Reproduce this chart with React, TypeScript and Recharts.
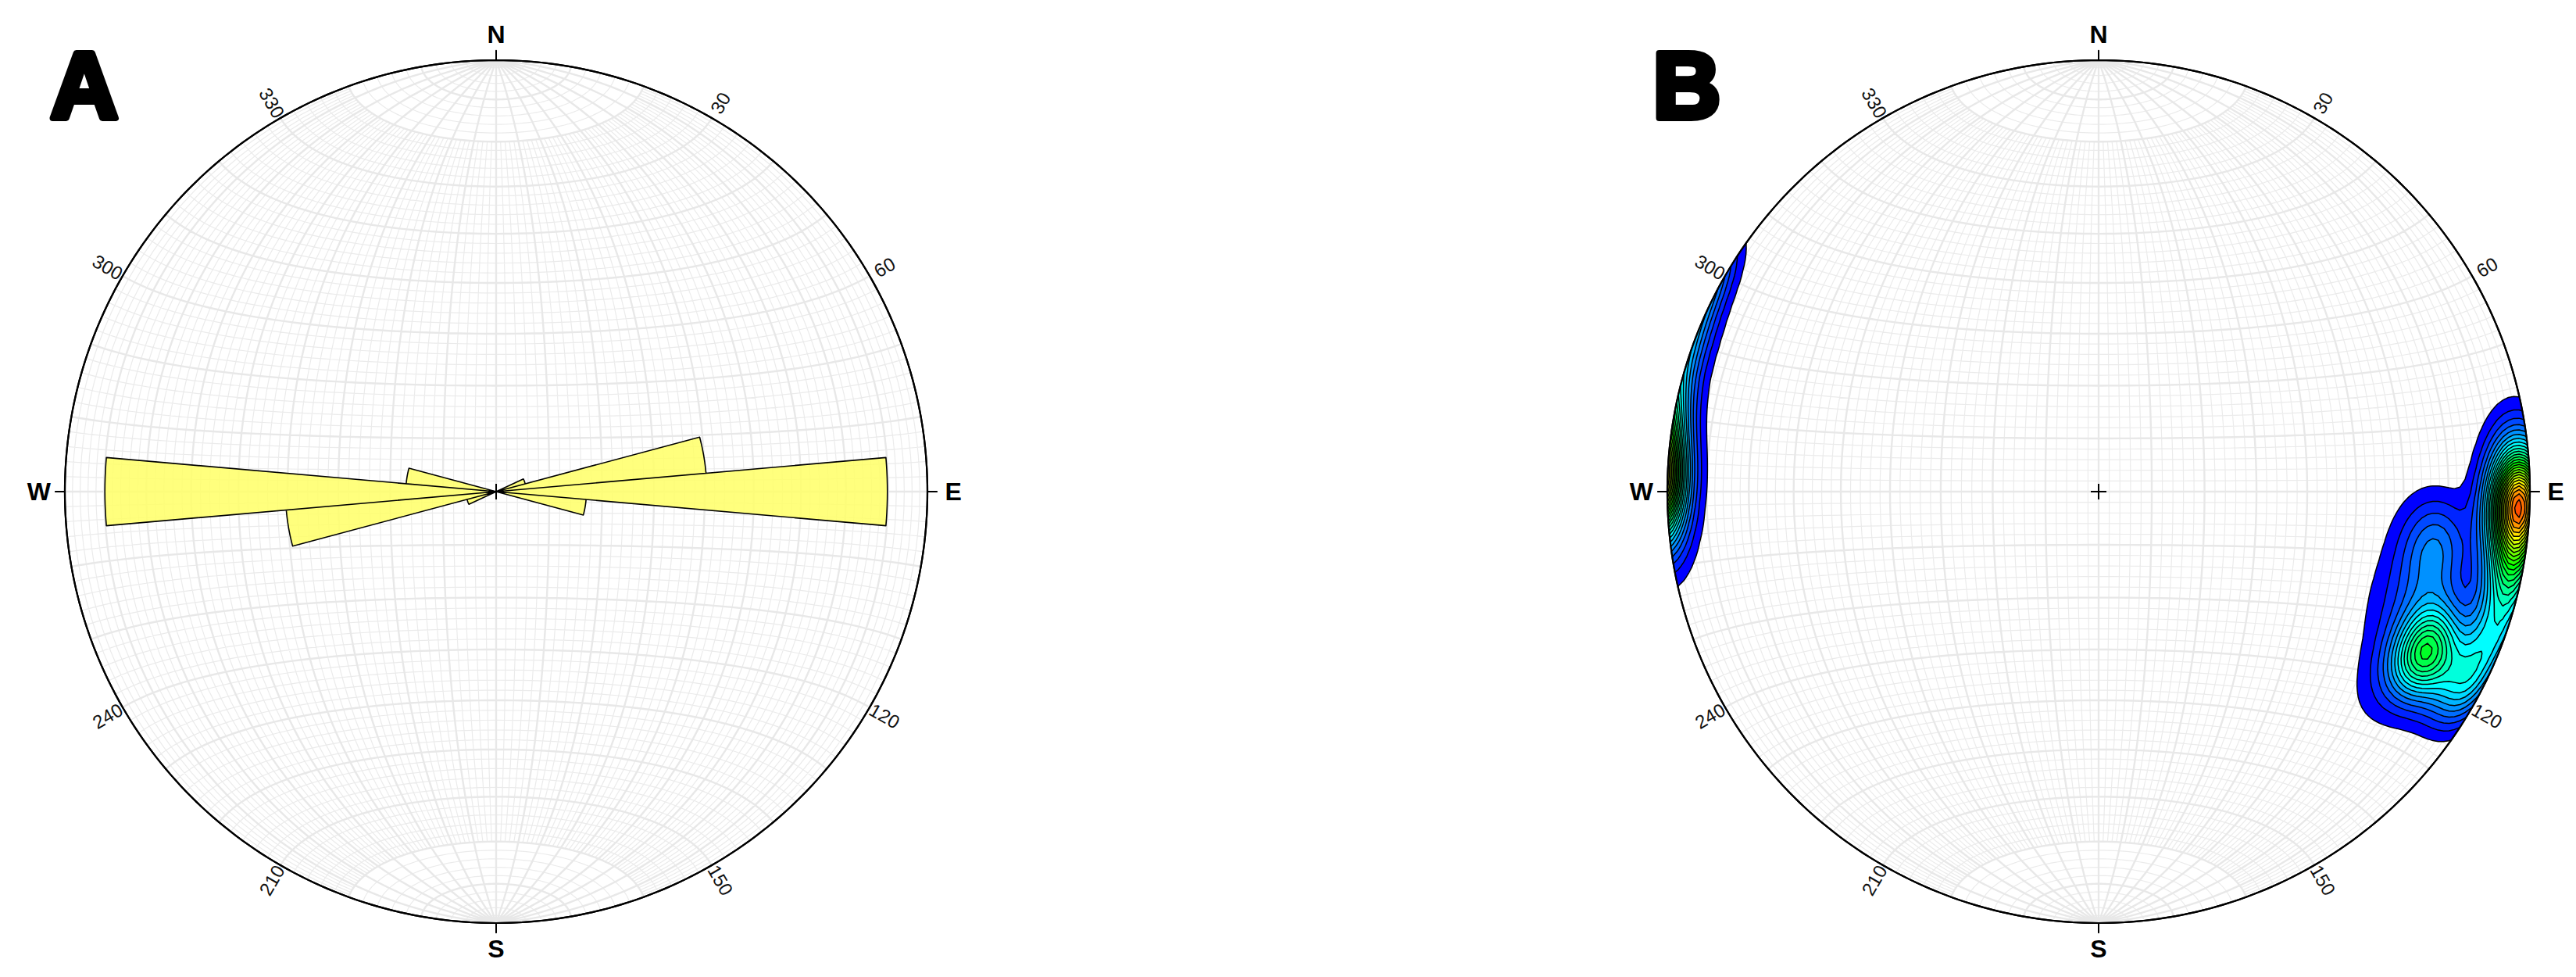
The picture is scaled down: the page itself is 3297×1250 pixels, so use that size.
import React from 'react';
import { ScatterChart, Scatter, XAxis, YAxis } from 'recharts';

// ---------------- data ----------------
// Panel A: rose diagram (10-degree bins, bidirectional strike data)
const roseBinCenters = [70, 80, 90, 100, 250, 260, 270, 280];
const roseBinCounts = [1, 7, 13, 3, 1, 7, 13, 3];
const roseBinWidth = 10;
const roseFullScaleCount = 14.33;

// Net annotations
const cardinalLabels = ['N', 'E', 'S', 'W'];
const cardinalAzimuths = [0, 90, 180, 270];
const degreeTickLabels = ['30', '60', '120', '150', '210', '240', '300', '330'];
const degreeTickAzimuths = [30, 60, 120, 150, 210, 240, 300, 330];
const panelLabels = ['A', 'B'];

// Panel B: pole-density concentrations (trend, plunge in degrees)
const poleTrends = [92, 101, 86, 110, 118, 118, 116, 107, 99, 110, 124, 97];
const polePlunges = [3, 3, 2, 3, 4, 10, 17, 21, 22, 27, 21, 26];
const poleWeights = [1.0, 0.35, 0.12, 0.25, 0.22, 0.12, 0.5, 0.08, 0.15, 0.05, 0.04, 0.03];
const poleKappas = [130, 150, 120, 150, 180, 150, 140, 120, 130, 80, 80, 100];
const contourLevelCount = 27;

// ---------------- layout ----------------
const WIDTH = 3297;
const HEIGHT = 1250;
const NET_R = 552;
const NET_A_CX = 635;
const NET_B_CX = 2686;
const NET_CY = 629;
const xDomainA = [-NET_A_CX / NET_R, (WIDTH - NET_A_CX) / NET_R];
const xDomainB = [-NET_B_CX / NET_R, (WIDTH - NET_B_CX) / NET_R];
const yDomain = [-(HEIGHT - NET_CY) / NET_R, NET_CY / NET_R];
const FONT = "'Liberation Sans', Arial, Helvetica, sans-serif";

const toRad = Math.PI / 180;
type P = { x: number; y: number };
type SP = { x: number; y: number; s: number };

// Schmidt (equal-area, lower hemisphere) projection of a unit vector (East, North, Down)
function projectVec(E: number, N: number, D: number): P {
  const k = 1 / Math.sqrt(1 + D);
  return { x: E * k, y: N * k };
}
function azPoint(az: number, r: number): P {
  return { x: r * Math.sin(az * toRad), y: r * Math.cos(az * toRad) };
}
function flatten(curves: P[][]): SP[] {
  const out: SP[] = [];
  curves.forEach((c, i) => c.forEach((p) => out.push({ x: p.x, y: p.y, s: i })));
  return out;
}

function buildGrid(major: boolean): SP[] {
  const curves: P[][] = [];
  const step = major ? 2 : 2.5;
  for (let d = 2; d <= 178; d += 2) {
    if ((d % 10 === 0) !== major) continue;
    const lim = major ? 90 : 70;
    const c: P[] = [];
    for (let l = -lim; l <= lim + 1e-9; l += step) {
      const cl = Math.cos(l * toRad);
      c.push(projectVec(cl * Math.cos(d * toRad), Math.sin(l * toRad), cl * Math.sin(d * toRad)));
    }
    curves.push(c);
  }
  for (let a = 2; a <= 178; a += 2) {
    if ((a % 10 === 0) !== major) continue;
    const sa = Math.sin(a * toRad);
    const c: P[] = [];
    for (let b = 0; b <= 180 + 1e-9; b += step) {
      c.push(projectVec(sa * Math.cos(b * toRad), Math.cos(a * toRad), sa * Math.sin(b * toRad)));
    }
    curves.push(c);
  }
  return flatten(curves);
}

const gridMinor = buildGrid(false);
const gridMajor = buildGrid(true);

const primitive: SP[] = (() => {
  const c: P[] = [];
  for (let a = 0; a <= 360; a += 1) c.push(azPoint(a, 1));
  return flatten([c]);
})();
const cardinalTicks: SP[] = flatten(cardinalAzimuths.map((az) => [azPoint(az, 1), azPoint(az, 1.022)]));

const rosePetals: SP[] = flatten(
  roseBinCenters.map((c, i) => {
    const r = roseBinCounts[i] / roseFullScaleCount;
    const pts: P[] = [{ x: 0, y: 0 }];
    for (let a = c - roseBinWidth / 2; a <= c + roseBinWidth / 2 + 1e-9; a += 1) pts.push(azPoint(a, r));
    return pts;
  })
);

const cardinalLabelData = cardinalLabels.map((t, i) => ({ ...azPoint(cardinalAzimuths[i], 1.06), text: t, rot: 0 }));
const degreeLabelData = degreeTickLabels.map((t, i) => {
  const az = degreeTickAzimuths[i];
  return { ...azPoint(az, 1.04), text: t, rot: az < 180 ? az - 90 : az - 270 };
});
const centerPoint = [{ x: 0, y: 0 }];
const panelLabelPos = { x: -0.955, y: 0.866 };

// ---------------- density contours (panel B) ----------------
const poleVecs = poleTrends.map((t, i) => {
  const p = polePlunges[i] * toRad;
  return [Math.cos(p) * Math.sin(t * toRad), Math.cos(p) * Math.cos(t * toRad), Math.sin(p)];
});
function density(x: number, y: number): number {
  const r2 = x * x + y * y;
  if (r2 > 1.06 * 1.06) return -1;
  const D = 1 - r2;
  const s = Math.sqrt(2 - r2);
  const E = x * s;
  const N = y * s;
  let f = 0;
  for (let i = 0; i < poleVecs.length; i++) {
    const v = poleVecs[i];
    const dot = Math.abs(E * v[0] + N * v[1] + D * v[2]);
    f += poleWeights[i] * Math.exp(poleKappas[i] * (dot - 1));
  }
  return f;
}

const GH = 0.0125;
const G0 = -1.1;
const GN = Math.round(2.2 / GH) + 1;
const field = new Float64Array(GN * GN);
let fieldMax = 0;
for (let j = 0; j < GN; j++) {
  for (let i = 0; i < GN; i++) {
    const x = G0 + i * GH, y = G0 + j * GH;
    const v = density(x, y);
    field[j * GN + i] = v;
    if (x * x + y * y <= 1 && v > fieldMax) fieldMax = v;
  }
}

function contourLoops(level: number): P[][] {
  const n = GN;
  const val = (i: number, j: number) => field[j * n + i];
  const H = (i: number, j: number) => j * n + i;
  const V = (i: number, j: number) => n * n + j * n + i;
  const adj = new Map<number, number[]>();
  const pos = new Map<number, P>();
  const nodePos = (id: number): P => {
    let p = pos.get(id);
    if (p) return p;
    if (id < n * n) {
      const j = Math.floor(id / n), i = id % n;
      const a = val(i, j), b = val(i + 1, j);
      const t = (level - a) / (b - a);
      p = { x: G0 + (i + t) * GH, y: G0 + j * GH };
    } else {
      const k = id - n * n;
      const j = Math.floor(k / n), i = k % n;
      const a = val(i, j), b = val(i, j + 1);
      const t = (level - a) / (b - a);
      p = { x: G0 + i * GH, y: G0 + (j + t) * GH };
    }
    pos.set(id, p);
    return p;
  };
  const link = (u: number, w: number) => {
    if (!adj.has(u)) adj.set(u, []);
    if (!adj.has(w)) adj.set(w, []);
    adj.get(u)!.push(w);
    adj.get(w)!.push(u);
  };
  for (let j = 0; j < n - 1; j++) {
    for (let i = 0; i < n - 1; i++) {
      const a = val(i, j), b = val(i + 1, j), c = val(i + 1, j + 1), d = val(i, j + 1);
      const idx = (a >= level ? 1 : 0) | (b >= level ? 2 : 0) | (c >= level ? 4 : 0) | (d >= level ? 8 : 0);
      if (idx === 0 || idx === 15) continue;
      const bot = H(i, j), top = H(i, j + 1), lef = V(i, j), rig = V(i + 1, j);
      const center = (a + b + c + d) / 4 >= level;
      switch (idx) {
        case 1: case 14: link(lef, bot); break;
        case 2: case 13: link(bot, rig); break;
        case 3: case 12: link(lef, rig); break;
        case 4: case 11: link(rig, top); break;
        case 6: case 9: link(bot, top); break;
        case 7: case 8: link(lef, top); break;
        case 5:
          if (center) { link(bot, rig); link(lef, top); } else { link(lef, bot); link(rig, top); }
          break;
        case 10:
          if (center) { link(lef, bot); link(rig, top); } else { link(bot, rig); link(lef, top); }
          break;
      }
    }
  }
  const visited = new Set<number>();
  const loops: P[][] = [];
  adj.forEach((_, start) => {
    if (visited.has(start)) return;
    const loop: P[] = [];
    let prev = -1;
    let cur = start;
    while (cur !== undefined && !visited.has(cur)) {
      visited.add(cur);
      loop.push(nodePos(cur));
      const nb = adj.get(cur)!;
      const next = nb[0] !== prev ? nb[0] : nb[1];
      prev = cur;
      cur = next;
    }
    if (loop.length > 2) loops.push(loop);
  });
  return loops;
}

const levelStep = fieldMax / (contourLevelCount + 0.6);
const contourLayers = Array.from({ length: contourLevelCount }, (_, k) => {
  const level = (k + 1) * levelStep;
  const hue = 240 - (k / (contourLevelCount - 1)) * 222;
  return { data: flatten(contourLoops(level)), color: `hsl(${hue.toFixed(1)},100%,50%)` };
});

// ---------------- renderers ----------------
function pathD(pts: any[], data: SP[], close: boolean): string {
  let d = '';
  let prev = -1;
  for (let i = 0; i < pts.length; i++) {
    const p = pts[i];
    const s = data[i] ? data[i].s : prev;
    if (p == null || p.x == null || p.y == null || isNaN(p.x) || isNaN(p.y)) continue;
    if (s !== prev) {
      if (close && prev !== -1) d += 'Z';
      d += `M${p.x.toFixed(2)},${p.y.toFixed(2)}`;
    } else {
      d += `L${p.x.toFixed(2)},${p.y.toFixed(2)}`;
    }
    prev = s;
  }
  if (close && prev !== -1) d += 'Z';
  return d;
}

const noShape = () => <g />;

const strokeLine = (data: SP[], stroke: string, width: number) => (props: any) => (
  <path d={pathD(props.points || [], data, false)} fill="none" stroke={stroke} strokeWidth={width} strokeLinejoin="round" strokeLinecap="round" />
);

const primitiveLine = (data: SP[], clipId: string) => (props: any) => {
  const d = pathD(props.points || [], data, true);
  return (
    <g>
      <defs>
        <clipPath id={clipId}>
          <path d={d} />
        </clipPath>
      </defs>
      <path d={d} fill="none" stroke="#000" strokeWidth={2.2} />
    </g>
  );
};

const fillLine = (data: SP[], fill: string, clipId?: string, fillOpacity = 1, sw = 1.6) => (props: any) => (
  <path
    d={pathD(props.points || [], data, true)}
    fill={fill}
    fillOpacity={fillOpacity}
    fillRule="evenodd"
    stroke="#000"
    strokeWidth={sw}
    strokeLinejoin="round"
    clipPath={clipId ? `url(#${clipId})` : undefined}
  />
);

const textShape = (size: number, weight: number | string, color: string) => (p: any) => {
  const pl = p.payload || p;
  return (
    <text
      x={p.cx}
      y={p.cy}
      textAnchor="middle"
      dominantBaseline="central"
      fontFamily={FONT}
      fontSize={size}
      fontWeight={weight}
      fill={color}
      transform={pl.rot ? `rotate(${pl.rot} ${p.cx} ${p.cy})` : undefined}
    >
      {pl.text}
    </text>
  );
};

const crossShape = (p: any) => (
  <g stroke="#000" strokeWidth={2}>
    <line x1={p.cx - 10} y1={p.cy} x2={p.cx + 10} y2={p.cy} />
    <line x1={p.cx} y1={p.cy - 10} x2={p.cx} y2={p.cy + 10} />
  </g>
);

const panelShape = (p: any) => {
  const pl = p.payload || p;
  return (
    <text
      x={p.cx}
      y={p.cy}
      textAnchor="middle"
      fontFamily={FONT}
      fontSize={120}
      fontWeight={900}
      fill="#000"
      stroke="#000"
      strokeWidth={8}
      strokeLinejoin="round"
    >
      {pl.text}
    </text>
  );
};

function netSeries(id: 'a' | 'b') {
  const clipId = `netClip_${id}`;
  return [
    <Scatter key={`gmin${id}`} xAxisId={id} data={gridMinor} isAnimationActive={false} shape={noShape} line={strokeLine(gridMinor, '#ebebeb', 1.2)} />,
    <Scatter key={`gmaj${id}`} xAxisId={id} data={gridMajor} isAnimationActive={false} shape={noShape} line={strokeLine(gridMajor, '#e8e8e8', 2.4)} />,
    <Scatter key={`prim${id}`} xAxisId={id} data={primitive} isAnimationActive={false} shape={noShape} line={primitiveLine(primitive, clipId)} />,
  ];
}

function netOverlay(id: 'a' | 'b', panel: string) {
  return [
    <Scatter key={`prim2${id}`} xAxisId={id} data={primitive} isAnimationActive={false} shape={noShape} line={strokeLine(primitive, '#000', 2.2)} />,
    <Scatter key={`tick${id}`} xAxisId={id} data={cardinalTicks} isAnimationActive={false} shape={noShape} line={strokeLine(cardinalTicks, '#000', 2)} />,
    <Scatter key={`cross${id}`} xAxisId={id} data={centerPoint} isAnimationActive={false} shape={crossShape} />,
    <Scatter key={`card${id}`} xAxisId={id} data={cardinalLabelData} isAnimationActive={false} shape={textShape(32, 'bold', '#000')} />,
    <Scatter key={`deg${id}`} xAxisId={id} data={degreeLabelData} isAnimationActive={false} shape={textShape(24, 'normal', '#111')} />,
    <Scatter key={`panel${id}`} xAxisId={id} data={[{ ...panelLabelPos, text: panel }]} isAnimationActive={false} shape={panelShape} />,
  ];
}

export default function App() {
  return (
    <div style={{ position: 'absolute', left: 0, top: 0, width: WIDTH, height: HEIGHT, background: '#fff' }}>
      <ScatterChart width={WIDTH} height={HEIGHT} margin={{ top: 0, right: 0, bottom: 0, left: 0 }}>
        <XAxis xAxisId="a" type="number" dataKey="x" domain={xDomainA} allowDataOverflow hide />
        <XAxis xAxisId="b" type="number" dataKey="x" domain={xDomainB} allowDataOverflow hide />
        <YAxis type="number" dataKey="y" domain={yDomain} allowDataOverflow hide />
        {netSeries('a')}
        {netSeries('b')}
        <Scatter
          key="rose"
          xAxisId="a"
          data={rosePetals}
          isAnimationActive={false}
          shape={noShape}
          line={fillLine(rosePetals, '#ffff66', undefined, 0.85, 1.6)}
        />
        {contourLayers.map((layer, k) => (
          <Scatter
            key={`lvl${k}`}
            xAxisId="b"
            data={layer.data}
            isAnimationActive={false}
            shape={noShape}
            line={fillLine(layer.data, layer.color, 'netClip_b', 1, 1.5)}
          />
        ))}
        {netOverlay('a', panelLabels[0])}
        {netOverlay('b', panelLabels[1])}
      </ScatterChart>
    </div>
  );
}
